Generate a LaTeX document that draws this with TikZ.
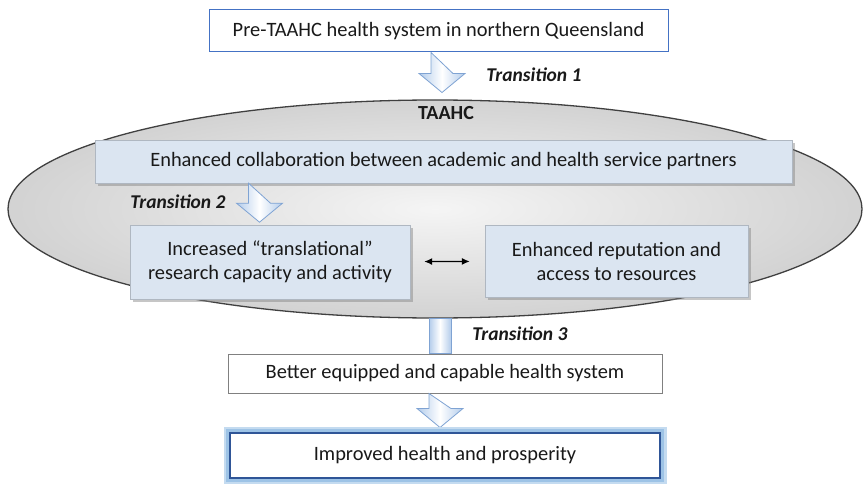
\documentclass[tikz,border=0pt]{standalone}
\usepackage{fontspec}
\setmainfont{Carlito}
\usetikzlibrary{shapes.geometric,shadows,arrows.meta}

\definecolor{boxblue}{HTML}{DBE5F1}
\definecolor{edgeblue}{HTML}{4472C4}
\definecolor{deepblue}{HTML}{2F5597}
\definecolor{glowblue}{HTML}{9DC3E6}
\definecolor{arrowedge}{HTML}{7FA3D3}
\definecolor{arrowfill}{HTML}{B3CCEB}

\tikzset{
  arrowpaint/.style={draw=arrowedge,line width=.8pt,left color=arrowfill,right color=arrowfill,
    middle color=white},
  pics/downarrow/.style={code={
    \draw[arrowpaint] (-11,0) -- (-11,{#1-19}) -- (-23,{#1-19}) -- (0,#1)
      -- (23,{#1-19}) -- (11,{#1-19}) -- cycle;}}
}

\begin{document}
\begin{tikzpicture}[x=1pt,y=-1pt,
  every node/.style={font=\fontsize{20.4}{24}\selectfont,text=black!90},
  plainbox/.style={rectangle,draw=#1,line width=1pt,fill=white},
  bluebox/.style={rectangle,fill=boxblue,draw=boxblue!80!black,line width=.4pt,align=center,
    drop shadow={shadow xshift=2.5pt,shadow yshift=-2.5pt,opacity=.45}},
  goalbox/.style={rectangle,draw=deepblue,line width=2.4pt,fill=white,
    preaction={draw=glowblue!60,line width=13pt},
    preaction={draw=glowblue,line width=8pt}},
  hub/.style={ellipse,draw=black!75,line width=1.3pt,inner color=gray!8,outer color=gray!35},
  trans/.style={font=\fontsize{19.5}{23}\selectfont\bfseries\itshape}]
\useasboundingbox (0,0) rectangle (864,484);

\node[hub,minimum width=854,minimum height=218] (taahc) at (435,209) {};
\node[font=\fontsize{20}{24}\selectfont\bfseries] (title) at (446,113) {TAAHC};

\node[plainbox=edgeblue,minimum width=459,minimum height=42] (pre) at (438.5,31)
  {Pre-TAAHC health system in northern Queensland};
\pic at ([xshift=3.5pt]pre.south) {downarrow=40};
\node[trans] (t1) at (534,75) {Transition 1};

\node[bluebox,minimum width=697,minimum height=43] (collab) at (443.5,161.5)
  {Enhanced collaboration between academic and health service partners};
\node[bluebox,minimum width=280,minimum height=74] (research) at (270,262)
  {Increased “translational”\\research capacity and activity};
\node[bluebox,minimum width=263,minimum height=72] (reput) at (616.5,261)
  {Enhanced reputation and\\access to resources};
\pic at ([xshift=-10.5pt]collab.south -| research.north) {downarrow=39};
\node[trans] (t2) at (178,202) {Transition 2};
\draw[{Latex[length=8pt,width=7pt]}-{Latex[length=8pt,width=7pt]},line width=1.3pt,
  shorten <=14,shorten >=15] (research) -- (reput);

\node[plainbox=gray,minimum width=434,minimum height=39] (better) at (445,373.5)
  {Better equipped and capable health system};
\draw[arrowpaint] ([xshift=-16pt]better.north) rectangle ([xshift=6pt]better.north |- taahc.south);
\node[trans] (t3) at (520,334) {Transition 3};
\pic at ([xshift=-5pt]better.south) {downarrow=34};
\node[goalbox,minimum width=430,minimum height=45] (goal) at (445,455.5)
  {Improved health and prosperity};
\end{tikzpicture}
\end{document}
